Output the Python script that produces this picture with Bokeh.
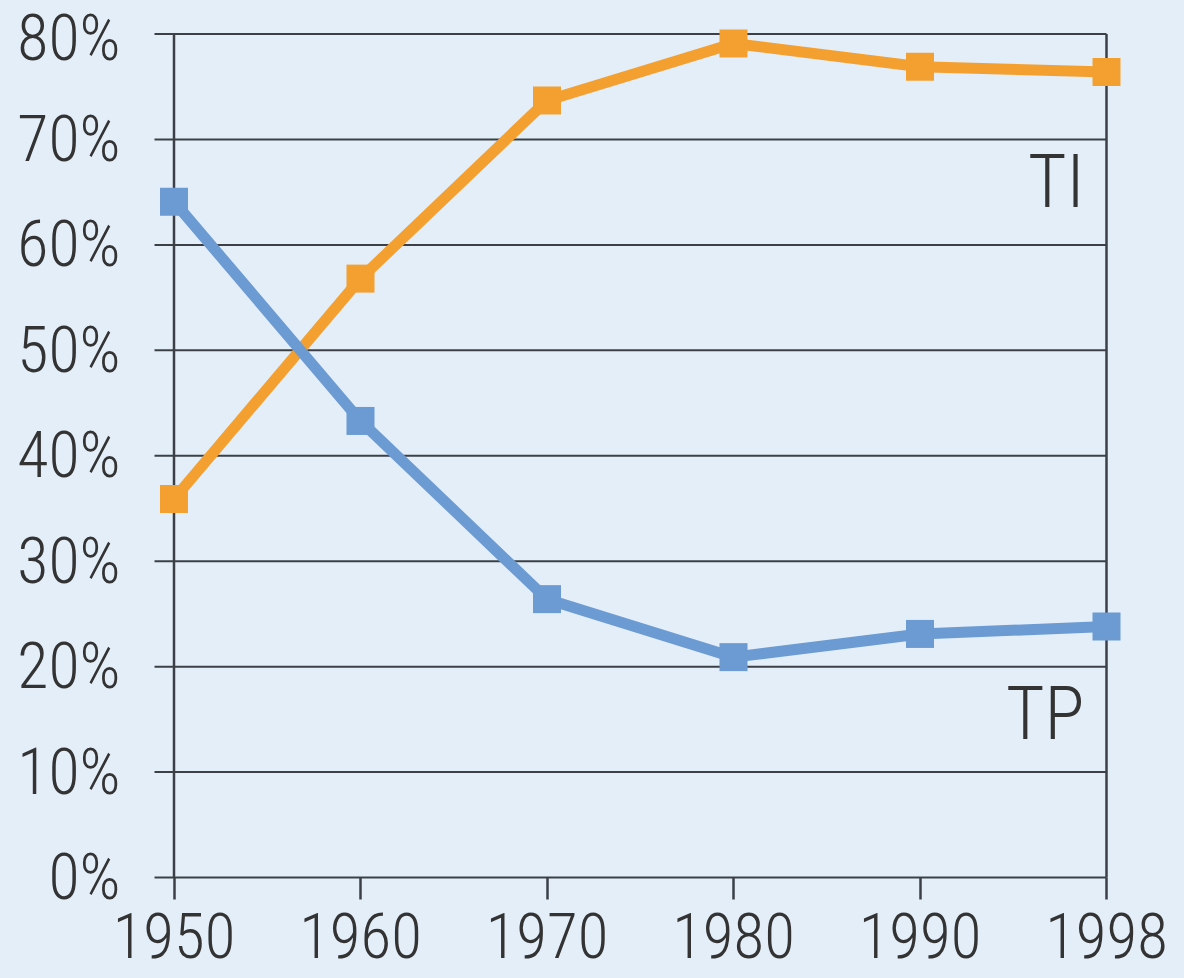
from bokeh.plotting import figure
from bokeh.models import FixedTicker, PrintfTickFormatter, Label, Range1d
from bokeh.embed import file_html
from bokeh.resources import INLINE

# ---- data ----
years = ["1950", "1960", "1970", "1980", "1990", "1998"]
ti = [35.9, 56.8, 73.7, 79.1, 76.9, 76.4]   # TI share (%)
tp = [64.1, 43.3, 26.4, 20.9, 23.1, 23.8]   # TP share (%)
y_ticks = [0, 10, 20, 30, 40, 50, 60, 70, 80]
y_labels_fmt = "%d%%"

# ---- style / geometry ----
W, H = 1184, 1000          # window shows the top 978 px; below that only empty space
BG = "#e3eef9"
ORANGE = "#f4a031"
BLUE = "#6b9bd2"
INK = "#3c4046"
TEXT = "#333333"
FONT = "Roboto Condensed Light, Roboto Condensed"

FRAME_L, FRAME_R, FRAME_T, FRAME_B = 140, 1140, 10, 899
X_FIRST_PX, X_LAST_PX = 173.5, 1106.0
Y0_PX, YTOP_PX = 877.0, 33.5
GRID_LEFT_PX = 154.0

xs = list(range(len(years)))
n_last = xs[-1]
x_per = (X_LAST_PX - X_FIRST_PX) / n_last
y_top = y_ticks[-1]
y_per = (Y0_PX - YTOP_PX) / y_top

x_start = -(X_FIRST_PX - FRAME_L) / x_per
x_end = n_last + (FRAME_R - X_LAST_PX) / x_per
y_start = -(FRAME_B - Y0_PX) / y_per
y_end = y_top + (YTOP_PX - FRAME_T) / y_per
grid_x0 = -(X_FIRST_PX - GRID_LEFT_PX) / x_per

p = figure(width=W, height=H, output_backend="svg", toolbar_location=None,
           x_range=Range1d(x_start, x_end), y_range=Range1d(y_start, y_end),
           min_border_left=FRAME_L, min_border_right=W - FRAME_R,
           min_border_top=FRAME_T, min_border_bottom=H - FRAME_B)
p.background_fill_color = BG
p.border_fill_color = BG
p.outline_line_color = None
p.xgrid.visible = False
p.ygrid.visible = False

# horizontal grid lines (left tick stub to right border)
p.segment(x0=[grid_x0] * len(y_ticks), y0=y_ticks, x1=[n_last] * len(y_ticks), y1=y_ticks,
          line_color=INK, line_width=2)
# left and right vertical border lines
p.segment(x0=[0, n_last], y0=[0, 0], x1=[0, n_last], y1=[y_top, y_top],
          line_color=INK, line_width=2.5)

# series
p.line(xs, ti, line_color=ORANGE, line_width=11)
p.line(xs, tp, line_color=BLUE, line_width=11)
p.scatter(xs, ti, marker="square", size=28, fill_color=ORANGE, line_color=None)
p.scatter(xs, tp, marker="square", size=28, fill_color=BLUE, line_color=None)

# x axis
xa = p.xaxis[0]
xa.ticker = FixedTicker(ticks=xs)
xa.major_label_overrides = {i: y for i, y in zip(xs, years)}
xa.axis_line_color = None
xa.major_tick_in = FRAME_B - int(Y0_PX)
xa.major_tick_out = 0
xa.major_tick_line_color = INK
xa.major_tick_line_width = 2.5
xa.minor_tick_line_color = None
xa.major_label_standoff = 13
xa.major_label_text_font = FONT
xa.major_label_text_font_size = "63px"
xa.major_label_text_color = TEXT

# y axis
ya = p.yaxis[0]
ya.ticker = FixedTicker(ticks=y_ticks)
ya.formatter = PrintfTickFormatter(format=y_labels_fmt)
ya.axis_line_color = None
ya.major_tick_line_color = None
ya.minor_tick_line_color = None
ya.major_tick_in = 0
ya.major_tick_out = 0
ya.major_label_standoff = 20
ya.major_label_text_font = FONT
ya.major_label_text_font_size = "64px"
ya.major_label_text_color = TEXT

# series labels
for txt, yv in (("TI", 66.0), ("TP", 15.6)):
    p.add_layout(Label(x=n_last, y=yv, x_offset=-22, text=txt, text_align="right",
                       text_baseline="alphabetic", text_font=FONT,
                       text_font_size="74px", text_color=TEXT))

html = file_html(p, INLINE)
html = html.replace("</head>",
                    "<style>html,body{margin:0;padding:0;background:%s;overflow:hidden;}</style></head>" % BG, 1)
open("out.html", "w").write(html)
